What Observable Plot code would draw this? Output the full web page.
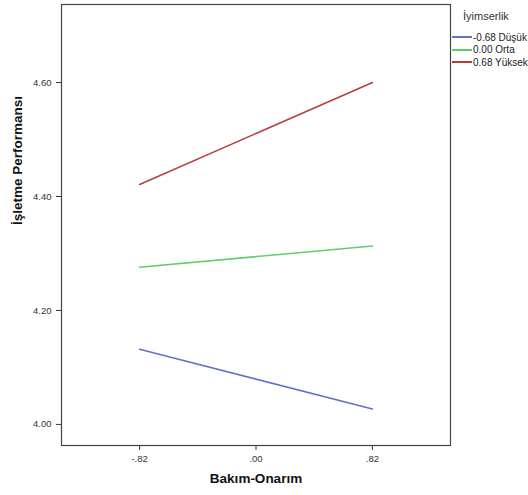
<!DOCTYPE html>
<html>
<head>
<meta charset="utf-8">
<script src="https://cdn.jsdelivr.net/npm/d3@7"></script>
<script src="https://cdn.jsdelivr.net/npm/@observablehq/plot@0.6"></script>
<style>
  body { margin: 0; background: #fff; }
  #wrap { position: relative; width: 528px; height: 495px; font-family: "Liberation Sans", Arial, sans-serif; }
  #legend { position: absolute; left: 452px; top: 10px; font-size: 10px; color: #222; }
  #legend .title { font-size: 11px; margin-left: 11px; margin-bottom: 9px; color: #333; }
  #legend .item { display: flex; align-items: center; height: 12.6px; white-space: nowrap; }
  #legend .sw { display: inline-block; width: 20px; height: 2px; margin-right: 1px; }
</style>
</head>
<body>
<div id="wrap"></div>
<script>
const series = ["-0.68 Düşük", "0.00 Orta", "0.68 Yüksek"];
const colors = ["#6272c8", "#5fce6b", "#b83b3b"];
const xValues = [-0.82, 0.82];
const lowValues = [4.132, 4.027];
const midValues = [4.276, 4.313];
const highValues = [4.421, 4.600];
const xTicks = [-0.82, 0, 0.82];
const xTickLabels = ["-.82", ".00", ".82"];
const yTicks = [4.0, 4.2, 4.4, 4.6];
const xTitle = "Bakım-Onarım";
const yTitle = "İşletme Performansı";
const legendTitle = "İyimserlik";

const allValues = [lowValues, midValues, highValues];
const data = [];
series.forEach((s, i) => xValues.forEach((x, j) => data.push({series: s, x, y: allValues[i][j]})));

const chart = Plot.plot({
  width: 528,
  height: 495,
  marginLeft: 61,
  marginRight: 78,
  marginTop: 4,
  marginBottom: 50,
  style: {fontFamily: "'Liberation Sans', Arial, sans-serif", fontSize: "9.5px", color: "#333", background: "#fff"},
  x: {domain: [-1.37, 1.37], ticks: xTicks, tickFormat: (d) => xTickLabels[xTicks.indexOf(d)], label: null, tickSize: 5, tickPadding: 5},
  y: {domain: [3.963, 4.737], ticks: yTicks, tickFormat: (d) => d.toFixed(2), label: null, tickSize: 5, tickPadding: 5},
  color: {domain: series, range: colors},
  marks: [
    Plot.frame({stroke: "#444", strokeWidth: 1.2}),
    Plot.line(data, {x: "x", y: "y", z: "series", stroke: "series", strokeWidth: 1.5}),
    Plot.text([xTitle], {text: (d) => d, frameAnchor: "bottom", dy: 37, fontWeight: "bold", fontSize: 13.5, fill: "#111"}),
    Plot.text([yTitle], {text: (d) => d, frameAnchor: "left", dx: -44, rotate: -90, fontWeight: "bold", fontSize: 13.5, fill: "#111"})
  ]
});
const wrap = document.getElementById("wrap");
wrap.appendChild(chart);

const legend = document.createElement("div");
legend.id = "legend";
legend.innerHTML = `<div class="title">${legendTitle}</div>` +
  series.map((s, i) => `<div class="item"><span class="sw" style="background:${colors[i]}"></span>${s}</div>`).join("");
wrap.appendChild(legend);
</script>
</body>
</html>
